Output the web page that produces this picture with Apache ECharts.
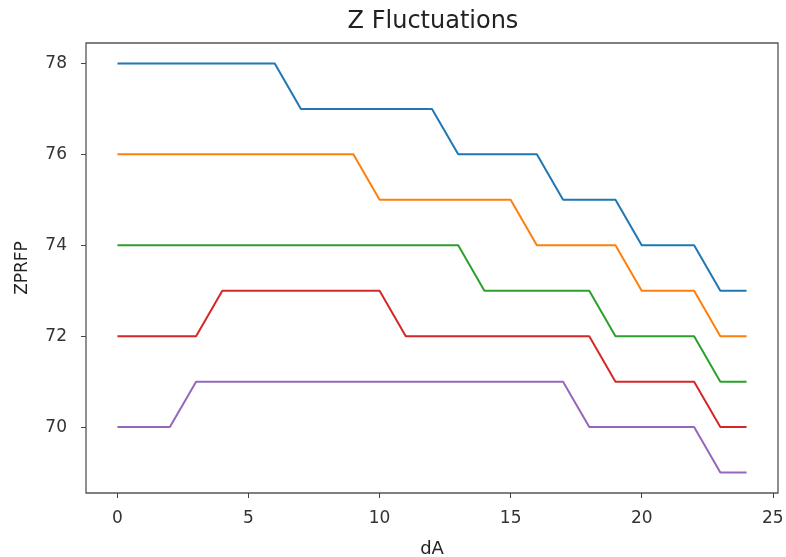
<!DOCTYPE html>
<html>
<head>
<meta charset="utf-8">
<script src="https://cdn.jsdelivr.net/npm/echarts@6/dist/echarts.min.js"></script>
<style>
  html, body { margin: 0; padding: 0; background: #fff; }
  #main { width: 786px; height: 557px; }
</style>
</head>
<body>
<div id="main"></div>
<script>
// x positions 0..24
const xs = [0,1,2,3,4,5,6,7,8,9,10,11,12,13,14,15,16,17,18,19,20,21,22,23,24];

const blue   = [78,78,78,78,78,78,78,77,77,77,77,77,77,76,76,76,76,75,75,75,74,74,74,73,73];
const orange = [76,76,76,76,76,76,76,76,76,76,75,75,75,75,75,75,74,74,74,74,73,73,73,72,72];
const green  = [74,74,74,74,74,74,74,74,74,74,74,74,74,74,73,73,73,73,73,72,72,72,72,71,71];
const red    = [72,72,72,72,73,73,73,73,73,73,73,72,72,72,72,72,72,72,72,71,71,71,71,70,70];
const purple = [70,70,70,71,71,71,71,71,71,71,71,71,71,71,71,71,71,71,70,70,70,70,70,69,69];

const xTicks = [0, 5, 10, 15, 20, 25];
const yTicks = [70, 72, 74, 76, 78];

const colors = ['#1f77b4', '#ff7f0e', '#2ca02c', '#d62728', '#9467bd'];
const allSeries = [blue, orange, green, red, purple];

const font = 'DejaVu Sans';
const chart = echarts.init(document.getElementById('main'));

chart.setOption({
  animation: false,
  backgroundColor: '#fff',
  title: {
    text: 'Z Fluctuations',
    left: 428,
    textAlign: 'center',
    top: 5,
    textStyle: { fontFamily: font, fontSize: 24, fontWeight: 'normal', color: '#222' }
  },
  grid: {
    left: 86, right: 8, top: 43, bottom: 64,
    show: true, borderColor: '#555', borderWidth: 1.3,
    containLabel: false,
    outerBoundsMode: 'none'
  },
  xAxis: {
    type: 'value',
    min: -1.2, max: 25.2,
    name: 'dA',
    nameLocation: 'middle',
    nameGap: 47,
    nameTextStyle: { fontFamily: font, fontSize: 18, color: '#222' },
    axisLine: { show: false, onZero: false },
    splitLine: { show: false },
    axisTick: { show: true, length: 5, customValues: xTicks, lineStyle: { color: '#444' } },
    axisLabel: { customValues: xTicks, margin: 17, fontFamily: font, fontSize: 17, color: '#333' }
  },
  yAxis: {
    type: 'value',
    min: 68.55, max: 78.45,
    name: 'ZPRFP',
    nameLocation: 'middle',
    nameGap: 55,
    nameTextStyle: { fontFamily: font, fontSize: 17, color: '#222' },
    axisLine: { show: false, onZero: false },
    splitLine: { show: false },
    axisTick: { show: true, length: 5, customValues: yTicks, lineStyle: { color: '#444' } },
    axisLabel: { customValues: yTicks, margin: 19, fontFamily: font, fontSize: 17, color: '#333' }
  },
  series: allSeries.map((vals, i) => ({
    type: 'line',
    data: xs.map((x, j) => [x, vals[j]]),
    showSymbol: false,
    lineStyle: { color: colors[i], width: 2 },
    itemStyle: { color: colors[i] }
  }))
});
</script>
</body>
</html>
